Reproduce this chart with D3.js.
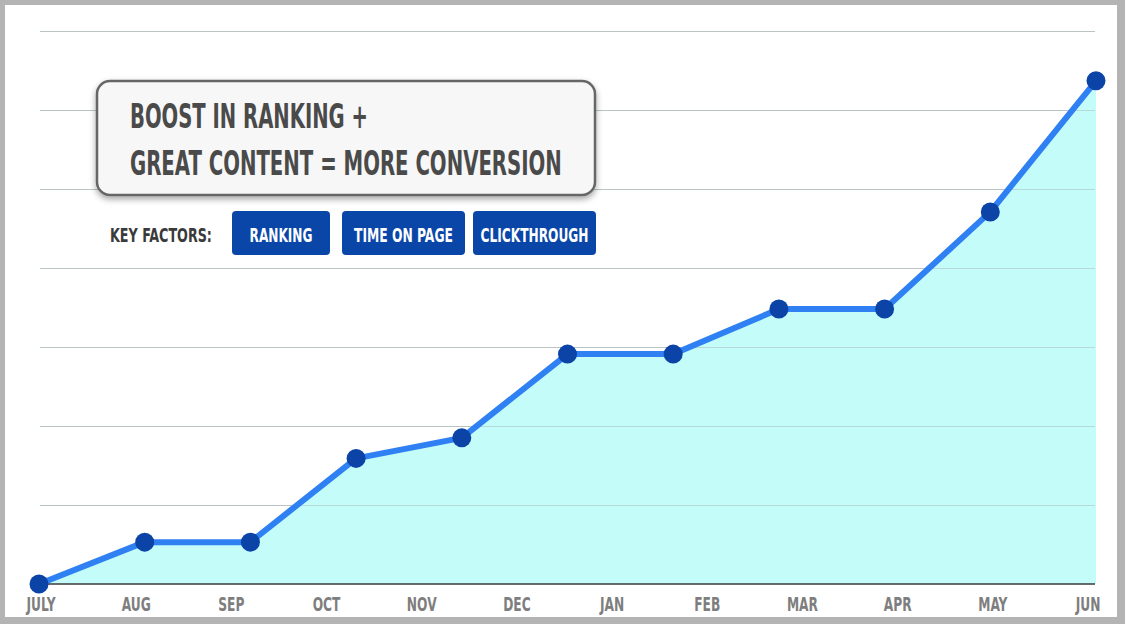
<!DOCTYPE html>
<html>
<head>
<meta charset="utf-8">
<script src="https://cdn.jsdelivr.net/npm/d3@7/dist/d3.min.js"></script>
<style>
  html, body { margin: 0; padding: 0; background: #fff; }
  svg { display: block; }
  .cond { font-family: "Liberation Sans Narrow", "DejaVu Sans Condensed", "Roboto Condensed", "Open Sans", sans-serif; font-stretch: condensed; }
</style>
</head>
<body>
<svg id="chart" width="1125" height="624"></svg>
<script>
// ---- data ----
const monthLabels = ["JULY","AUG","SEP","OCT","NOV","DEC","JAN","FEB","MAR","APR","MAY","JUN"];
const pointIndex = [0,1,2,3,4,5,6,7,8,9,10];
const conversionValues = [0, 5.3, 5.3, 15.9, 18.5, 29.1, 29.1, 34.8, 34.8, 47.1, 63.7];
const gridTicks = [0,10,20,30,40,50,60,70];
const titleLines = ["BOOST IN RANKING +", "GREAT CONTENT = MORE CONVERSION"];
const keyLabel = "KEY FACTORS:";
const factors = ["RANKING", "TIME ON PAGE", "CLICKTHROUGH"];

const W = 1125, H = 624;
const svg = d3.select("#chart");

// place a text at (x, y) with anchor, horizontally squeezed to a target width
function fitText(sel, x, yy, target, anchor) {
  sel.attr("x", 0).attr("y", 0).attr("text-anchor", anchor);
  const nat = sel.node().getComputedTextLength();
  const sx = Math.min(1.2, target / nat);
  sel.attr("transform", `translate(${x},${yy}) scale(${sx},1)`);
}

// frame
svg.append("rect").attr("x",0).attr("y",0).attr("width",W).attr("height",H).attr("fill","#b4b4b4");
svg.append("rect").attr("x",5).attr("y",5).attr("width",1112).attr("height",612).attr("fill","#ffffff");

// scales
const y = d3.scaleLinear().domain([0,70]).range([584,31]);
const xPts = d3.scalePoint().domain(pointIndex).range([39,1096]);
const xLab = d3.scalePoint().domain(monthLabels).range([41,1088]);

// gridlines
svg.append("g").selectAll("line").data(gridTicks.filter(d => d > 0)).join("line")
  .attr("x1",40).attr("x2",1095)
  .attr("y1",d => y(d)+0.5).attr("y2",d => y(d)+0.5)
  .attr("stroke","#c8c8c8").attr("stroke-width",1);

// area
const area = d3.area().x((d,i) => xPts(i)).y0(y(0)).y1(d => y(d));
svg.append("path").datum(conversionValues).attr("d",area).attr("fill","#c4fcfa");

// gridlines over area (faint)
svg.append("g").selectAll("line").data(gridTicks.filter(d => d > 0)).join("line")
  .attr("x1",40).attr("x2",1095)
  .attr("y1",d => y(d)+0.5).attr("y2",d => y(d)+0.5)
  .attr("stroke","#b0c4c4").attr("stroke-width",1).attr("opacity",0.6);

// baseline
svg.append("line").attr("x1",40).attr("x2",1095).attr("y1",y(0)).attr("y2",y(0))
  .attr("stroke","#3a3a3a").attr("stroke-width",1.5);

// line
const line = d3.line().x((d,i) => xPts(i)).y(d => y(d));
svg.append("path").datum(conversionValues).attr("d",line)
  .attr("fill","none").attr("stroke","#2f80f2").attr("stroke-width",6).attr("stroke-linejoin","round");

// points
svg.append("g").selectAll("circle").data(conversionValues).join("circle")
  .attr("cx",(d,i) => xPts(i)).attr("cy",d => y(d)).attr("r",9.5)
  .attr("fill","#0b43a6");

// x labels
svg.append("g").selectAll("text").data(monthLabels).join("text")
  .attr("class","cond")
  .attr("transform",d => `translate(${xLab(d)},611) scale(0.68,1)`)
  .attr("text-anchor","middle")
  .attr("font-size",20).attr("font-weight","bold")
  .attr("fill","#7e7e7e")
  .text(d => d);

// callout box
const defs = svg.append("defs");
const f = defs.append("filter").attr("id","shadow").attr("x","-10%").attr("y","-20%").attr("width","120%").attr("height","150%");
f.append("feDropShadow").attr("dx",0).attr("dy",3).attr("stdDeviation",3).attr("flood-color","#000").attr("flood-opacity",0.35);

svg.append("rect").attr("x",97).attr("y",81).attr("width",498).attr("height",114)
  .attr("rx",13).attr("ry",13)
  .attr("fill","#f7f7f7").attr("stroke","#666").attr("stroke-width",2.5)
  .attr("filter","url(#shadow)");

const titleW = [238, 432];
svg.append("g").selectAll("text").data(titleLines).join("text")
  .attr("class","cond")
  .attr("font-size",34).attr("font-weight","bold")
  .attr("fill","#4a4a4a")
  .text(d => d)
  .each(function(d,i){ fitText(d3.select(this), 130, 128 + i*47, titleW[i], "start"); });

// key factors
svg.append("text").attr("class","cond")
  .attr("font-size",20).attr("font-weight","bold").attr("fill","#3a3a3a")
  .text(keyLabel)
  .call(s => fitText(s, 110, 242, 102, "start"));

const btnX = [232, 342, 473];
const btnW = [98, 123, 123];
const btnTextW = [63, 99, 108];
const bg = svg.append("g").selectAll("g").data(factors).join("g");
bg.append("rect")
  .attr("x",(d,i) => btnX[i]).attr("y",211).attr("width",(d,i) => btnW[i]).attr("height",44)
  .attr("rx",4).attr("fill","#0a46a8");
bg.append("text").attr("class","cond")
  .attr("font-size",20).attr("font-weight","bold").attr("fill","#ffffff")
  .text(d => d)
  .each(function(d,i){ fitText(d3.select(this), btnX[i] + btnW[i]/2, 242, btnTextW[i], "middle"); });
</script>
</body>
</html>
